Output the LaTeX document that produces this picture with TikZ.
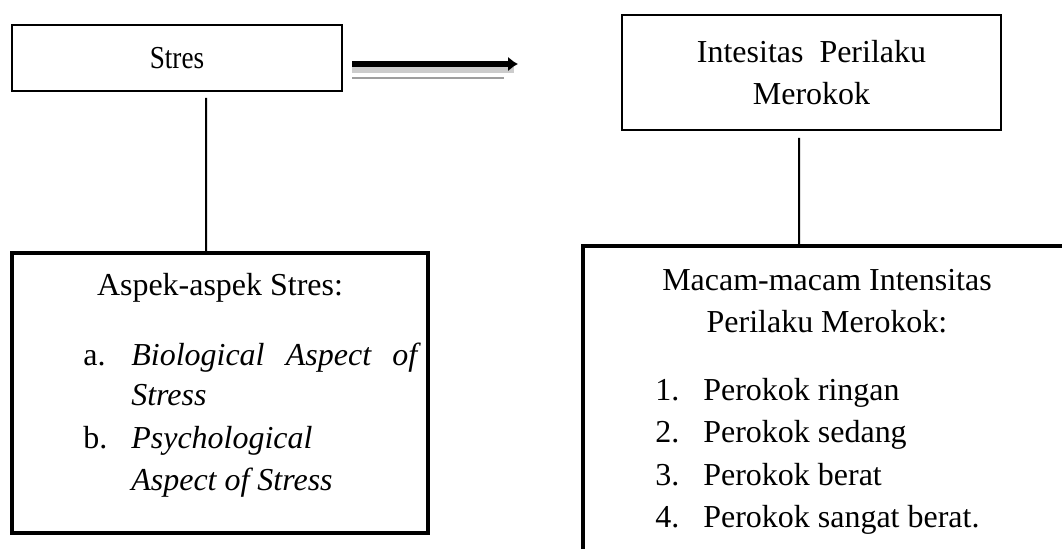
\documentclass[tikz,border=0pt]{standalone}
\usepackage{fontspec}
\setmainfont{Liberation Serif}
\usetikzlibrary{arrows.meta}
\tikzset{
  box/.style={draw, line width=0.04cm, inner sep=0pt, align=center},
  heavybox/.style={draw, line width=0.085cm, inner sep=0pt},
  txt/.style={inner sep=0pt, anchor=base west},
  ctxt/.style={inner sep=0pt, anchor=base},
  link/.style={line width=0.04cm},
  arrow/.style={-{Latex[length=0.2cm,width=0.3cm]}, line width=0.11cm},
  shadow/.style={line width=0.12cm, black!20}
}

\begin{document}
\begin{tikzpicture}[x=0.02cm, y=-0.02cm,
    font=\fontsize{18.2pt}{23.9pt}\selectfont]
  \useasboundingbox (0,0) rectangle (1062,548);
  \clip (0,0) rectangle (1062,548);

  % top row
  \node[box, minimum width=6.6cm, minimum height=1.32cm] (stres) at (177,58)
    {\scalebox{0.85}[1]{Stres}};
  \node[box, minimum width=7.58cm, minimum height=2.3cm] (intens) at (811.5,72.5)
    {Intesitas\ \ Perilaku\\Merokok};

  % arrow between the two
  \coordinate (tail) at (352,64);
  \coordinate (tip) at (518,64);
  \draw[shadow] ([yshift=-0.12cm]tail) -- ([shift={(-4,0)},yshift=-0.12cm]tip);
  \draw[line width=0.04cm, black!38] ([yshift=-0.29cm]tail) -- ([shift={(-14,0)},yshift=-0.29cm]tip);
  \draw[arrow] (tail) -- (tip);

  % bottom boxes
  \node[heavybox, minimum width=8.32cm, minimum height=5.6cm] (aspek) at (220,393) {};
  \node[heavybox, minimum width=10.34cm, minimum height=7.08cm] (macam) at (841.5,423) {};

  \draw[link] ([shift={(29,6)}]stres.south) -- ([xshift=-0.28cm]aspek.north);
  \draw[link] ([shift={(-12.5,7)}]intens.south) -- ([xshift=-0.85cm]macam.north);

  % text of the left box
  \node[ctxt] (aspektitle) at (220,295) {Aspek-aspek Stres:};
  \node[txt] (la) at (83,365) {a.};
  \node[txt] (bio) at (131,365) {\makebox[5.72cm][s]{\itshape Biological Aspect of}};
  \node[txt] (bio2) at (131,405) {\itshape Stress};
  \node[txt] (lb) at (83,448) {b.};
  \node[txt] (psy) at (131,448) {\itshape Psychological};
  \node[txt] (psy2) at (131,490) {\itshape Aspect of Stress};

  % text of the right box
  \node[ctxt] (macamtitle) at (827,290) {Macam-macam Intensitas};
  \node[ctxt] (macamtitle2) at (827,332) {Perilaku Merokok:};
  \node[txt] (n1) at (655,400) {1.};
  \node[txt] (r1) at (703,400) {Perokok ringan};
  \node[txt] (n2) at (655,442) {2.};
  \node[txt] (r2) at (703,442) {Perokok sedang};
  \node[txt] (n3) at (655,485) {3.};
  \node[txt] (r3) at (703,485) {Perokok berat};
  \node[txt] (n4) at (655,527) {4.};
  \node[txt] (r4) at (703,527) {Perokok sangat berat.};
\end{tikzpicture}
\end{document}
